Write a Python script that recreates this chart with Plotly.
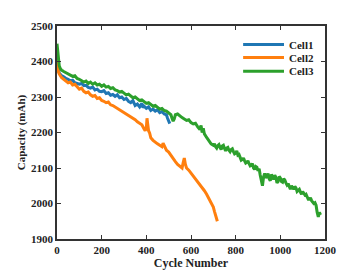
import plotly.graph_objects as go

cell1_cycles = [0, 3, 6, 10, 15, 20, 30, 40, 50, 60, 70, 80, 90, 100, 110, 120, 130, 140, 150, 160,
                170, 180, 190, 200, 210, 220, 230, 240, 250, 260, 270, 280, 290, 300, 310, 320, 330,
                340, 350, 360, 370, 380, 385, 390, 400, 410, 420, 430, 440, 450, 460, 470, 480, 490,
                495, 500, 505]
cell1_cap = [2410, 2385, 2375, 2368, 2362, 2360, 2357, 2352, 2350, 2345, 2347, 2340, 2338, 2336, 2338,
             2332, 2333, 2327, 2325, 2328, 2320, 2322, 2316, 2315, 2318, 2310, 2312, 2305, 2307, 2302,
             2306, 2298, 2300, 2293, 2296, 2288, 2284, 2290, 2276, 2280, 2272, 2282, 2270, 2274, 2268,
             2272, 2262, 2266, 2260, 2264, 2256, 2259, 2252, 2250, 2240, 2232, 2225]

cell2_cycles = [0, 3, 6, 10, 15, 20, 30, 40, 50, 60, 70, 80, 90, 100, 110, 120, 130, 140, 150, 160,
                170, 180, 190, 200, 210, 220, 230, 240, 250, 260, 270, 280, 290, 300, 310, 320, 330,
                340, 350, 360, 370, 380, 390, 395, 400, 403, 406, 410, 415, 420, 430, 440, 450, 460,
                470, 475, 480, 490, 500, 510, 520, 530, 540, 550, 560, 565, 570, 575, 580, 590, 600,
                610, 620, 630, 640, 650, 660, 670, 680, 690, 700, 705, 710, 715, 718]
cell2_cap = [2405, 2385, 2372, 2365, 2360, 2355, 2350, 2346, 2340, 2342, 2334, 2336, 2328, 2322, 2325,
             2316, 2312, 2314, 2306, 2302, 2304, 2296, 2298, 2290, 2288, 2284, 2286, 2278, 2276, 2272,
             2268, 2265, 2262, 2256, 2254, 2248, 2246, 2240, 2236, 2230, 2226, 2222, 2210, 2205, 2212,
             2240, 2225, 2205, 2198, 2185, 2178, 2172, 2168, 2164, 2160, 2170, 2163, 2150, 2145, 2135,
             2125, 2118, 2110, 2104, 2100, 2115, 2128, 2110, 2100, 2094, 2086, 2078, 2070, 2062, 2052,
             2044, 2036, 2026, 2015, 2002, 1990, 1978, 1965, 1955, 1950]

cell3_cycles = [0, 2, 4, 7, 10, 15, 20, 30, 40, 50, 60, 70, 80, 90, 100, 110, 120, 130, 140, 150, 160,
                170, 180, 190, 200, 210, 220, 230, 240, 250, 260, 270, 280, 290, 300, 310, 320, 330,
                340, 350, 360, 370, 380, 390, 400, 410, 420, 430, 440, 450, 460, 470, 480, 490, 500,
                510, 515, 520, 525, 530, 540, 550, 560, 570, 580, 590, 600, 610, 620, 630, 640, 645,
                650, 655, 660, 670, 680, 690,
                700, 705, 710, 715, 720, 725, 730, 735, 740, 745, 750, 755, 760, 765, 770, 775, 780,
                785, 790, 795, 800, 805, 810, 815, 820, 825, 830, 835, 840, 845, 850, 855, 860, 865,
                870, 875, 880, 885, 890, 895, 900, 905, 910, 915, 920, 925, 930, 935, 940, 945, 950,
                955, 960, 965, 970, 975, 980, 985, 990, 995, 1000, 1005, 1010, 1015, 1020, 1025, 1030,
                1035, 1040, 1045, 1050, 1055, 1060, 1065, 1070, 1075, 1080, 1085, 1090, 1095, 1100,
                1105, 1110, 1115, 1120, 1125, 1130, 1135, 1140, 1145, 1150, 1155, 1160, 1165, 1170,
                1175, 1180]
cell3_cap = [2450, 2435, 2410, 2395, 2388, 2380, 2376, 2372, 2368, 2365, 2362, 2358, 2360, 2352, 2350,
             2346, 2342, 2345, 2338, 2342, 2336, 2340, 2334, 2336, 2330, 2334, 2328, 2330, 2324, 2326,
             2320, 2318, 2314, 2316, 2310, 2306, 2308, 2302, 2298, 2300, 2294, 2290, 2292, 2286, 2282,
             2284, 2278, 2274, 2276, 2270, 2266, 2268, 2262, 2260, 2256, 2250, 2240, 2232, 2238, 2250,
             2252, 2246, 2242, 2238, 2234, 2236, 2228, 2224, 2226, 2216, 2208, 2220, 2200, 2212, 2196,
             2186, 2178, 2168,
             2164, 2168, 2160, 2156, 2163, 2166, 2158, 2152, 2162, 2164, 2155, 2148, 2156, 2158, 2150,
             2146, 2152, 2154, 2146, 2140, 2142, 2148, 2136, 2138, 2130, 2122, 2124, 2128, 2120, 2114,
             2116, 2120, 2112, 2106, 2108, 2112, 2100, 2096, 2104, 2102, 2092, 2098, 2080, 2060, 2050,
             2075, 2085, 2072, 2078, 2084, 2070, 2064, 2082, 2076, 2068, 2080, 2074, 2058, 2062, 2076,
             2072, 2062, 2060, 2070, 2066, 2058, 2052, 2056, 2046, 2040, 2050, 2046, 2040, 2048, 2044,
             2034, 2036, 2040, 2032, 2026, 2034, 2030, 2024, 2026, 2020, 2012, 2012, 2016, 2008, 2004,
             2000, 2002, 1995, 1975, 1962, 1975, 1968]

names = ["Cell1", "Cell2", "Cell3"]
colors = ["#1f77b4", "#ff7f0e", "#2ca02c"]
x_ticks = [0, 200, 400, 600, 800, 1000, 1200]
y_ticks = [1900, 2000, 2100, 2200, 2300, 2400, 2500]

FONT = "Liberation Serif, Times New Roman, serif"
TXT = "#222222"
fig = go.Figure()
for name, xs, ys, c in zip(names, [cell1_cycles, cell2_cycles, cell3_cycles],
                           [cell1_cap, cell2_cap, cell3_cap], colors):
    fig.add_trace(go.Scatter(x=xs, y=ys, mode="lines", name=name,
                             line=dict(color=c, width=3), showlegend=False))

# manual legend (compact row spacing)
leg_x0, leg_x1, leg_tx = 0.6945, 0.847, 0.857
leg_y = [0.913, 0.852, 0.788]
for name, c, ly in zip(names, colors, leg_y):
    fig.add_shape(type="line", xref="paper", yref="paper", x0=leg_x0, x1=leg_x1, y0=ly, y1=ly,
                  line=dict(color=c, width=3))
    fig.add_annotation(xref="paper", yref="paper", x=leg_tx, y=ly, text=name, showarrow=False,
                       xanchor="left", yanchor="middle",
                       font=dict(family=FONT, size=11, color=TXT, weight="bold"))

axis_common = dict(showgrid=False, zeroline=False, showline=True, linecolor="#333333", linewidth=1.5,
                   mirror="ticks", ticks="inside", ticklen=4, tickwidth=1.2, tickcolor="#333333",
                   tickfont=dict(family=FONT, size=11, color=TXT, weight="bold"))
fig.update_xaxes(range=[0, 1200], tickvals=x_ticks,
                 title=dict(text="Cycle Number", font=dict(family=FONT, size=12, color=TXT, weight="bold"),
                            standoff=2),
                 **axis_common)
fig.update_yaxes(range=[1900, 2500], tickvals=y_ticks,
                 title=dict(text="Capacity (mAh)", font=dict(family=FONT, size=11, color=TXT, weight="bold"),
                            standoff=3),
                 **axis_common)
fig.update_layout(width=348, height=270, margin=dict(l=42, r=31, t=13, b=39),
                  paper_bgcolor="white", plot_bgcolor="white", showlegend=False)
fig.write_html("out.html")
